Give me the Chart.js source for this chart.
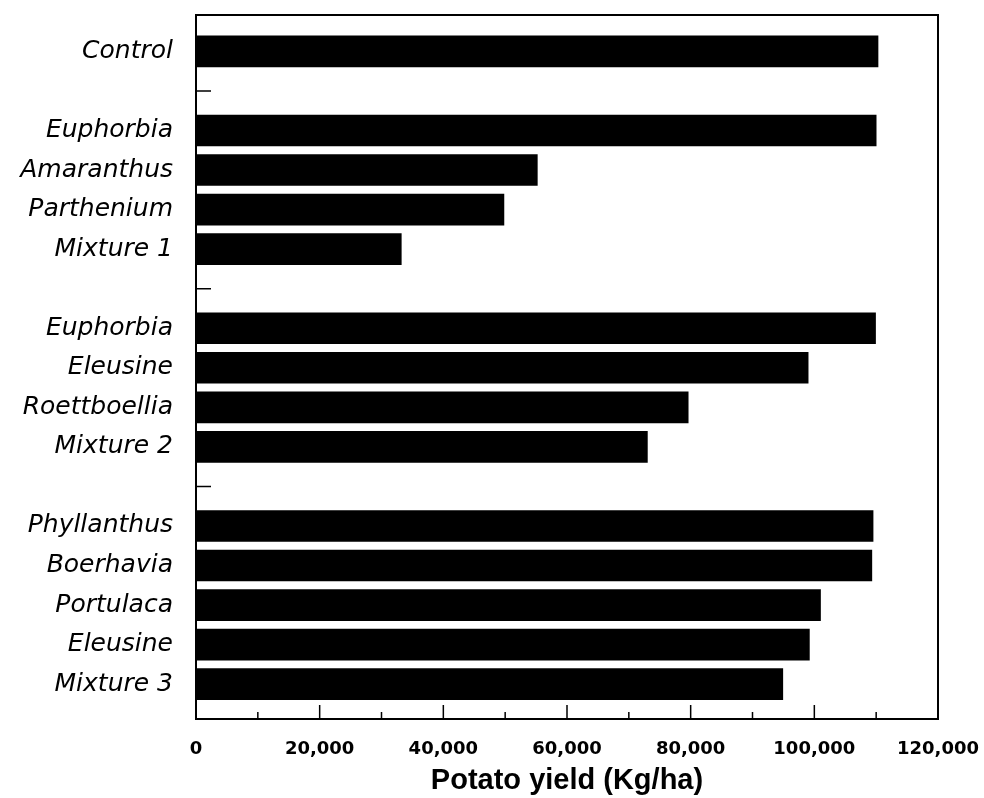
<!DOCTYPE html>
<html>
<head>
<meta charset="utf-8">
<script src="https://cdn.jsdelivr.net/npm/chart.js@4"></script>
<style>
    html, body { margin: 0; padding: 0; background: #fff; }
</style>
</head>
<body>
<canvas id="chart" width="984" height="798"></canvas>
<script>
// rows from top to bottom, '' = spacer row between groups
const categories = ['Control', '', 'Euphorbia', 'Amaranthus', 'Parthenium', 'Mixture 1', '',
    'Euphorbia', 'Eleusine', 'Roettboellia', 'Mixture 2', '',
    'Phyllanthus', 'Boerhavia', 'Portulaca', 'Eleusine', 'Mixture 3'];
const yields = [110300, null, 110000, 55200, 49800, 33200, null,
    109900, 99000, 79600, 73000, null,
    109500, 109300, 101000, 99200, 94900];
const xTicks = [0, 20000, 40000, 60000, 80000, 100000, 120000];
const minorTicks = [10000, 30000, 50000, 70000, 90000, 110000];

// frame + inward tick marks like the original figure
const framePlugin = {
    id: 'frame',
    afterDatasetsDraw(chart) {
        const {ctx, chartArea: a, scales} = chart;
        ctx.save();
        ctx.strokeStyle = '#000';
        ctx.lineWidth = 2;
        ctx.strokeRect(a.left, a.top, a.right - a.left, a.bottom - a.top);
        ctx.lineWidth = 1.5;
        ctx.beginPath();
        xTicks.forEach(v => {
            const x = scales.x.getPixelForValue(v);
            ctx.moveTo(x, a.bottom);
            ctx.lineTo(x, a.bottom - 14);
        });
        minorTicks.forEach(v => {
            const x = scales.x.getPixelForValue(v);
            ctx.moveTo(x, a.bottom);
            ctx.lineTo(x, a.bottom - 7);
        });
        categories.forEach((c, i) => {
            if (c !== '') return;
            const y = scales.y.getPixelForValue(i);
            ctx.moveTo(a.left, y);
            ctx.lineTo(a.left + 15, y);
        });
        ctx.stroke();
        ctx.restore();
    }
};

new Chart(document.getElementById('chart'), {
    type: 'bar',
    data: {
        datasets: [{
            data: yields.map((v, i) => v === null ? null : {x: v, y: i}).filter(d => d),
            backgroundColor: '#000',
            borderWidth: 0,
            barThickness: 31
        }]
    },
    options: {
        indexAxis: 'y',
        responsive: false,
        animation: false,
        layout: {padding: {top: 15, right: 46, left: 0, bottom: 0}},
        plugins: {legend: {display: false}, tooltip: {enabled: false}},
        scales: {
            y: {
                type: 'linear',
                reverse: true,
                offset: false,
                min: -0.92,
                max: 16.88,
                afterBuildTicks: scale => {
                    scale.ticks = categories.map((c, i) => ({value: i}));
                },
                afterFit: scale => {
                    scale.width = 196;
                    scale.paddingTop = 0;
                    scale.paddingBottom = 0;
                },
                grid: {display: false},
                border: {display: false},
                ticks: {
                    autoSkip: false,
                    padding: 15,
                    color: '#000',
                    font: {family: 'DejaVu Sans', style: 'italic', size: 25},
                    callback: v => categories[v] ?? ''
                }
            },
            x: {
                type: 'linear',
                min: 0,
                max: 120000,
                afterBuildTicks: scale => {
                    scale.ticks = xTicks.map(v => ({value: v}));
                },
                afterFit: scale => {
                    scale.height = 79;
                    scale.paddingLeft = 0;
                    scale.paddingRight = 0;
                },
                grid: {display: false},
                border: {display: false},
                ticks: {
                    autoSkip: false,
                    maxRotation: 0,
                    padding: 12,
                    color: '#000',
                    font: {family: 'DejaVu Sans', weight: 'bold', size: 18},
                    callback: v => v.toLocaleString('en-US')
                },
                title: {
                    display: true,
                    text: 'Potato yield (Kg/ha)',
                    color: '#000',
                    font: {family: 'Liberation Sans', weight: 'bold', size: 29},
                    padding: {top: 0, bottom: 0}
                }
            }
        }
    },
    plugins: [framePlugin]
});
</script>
</body>
</html>
